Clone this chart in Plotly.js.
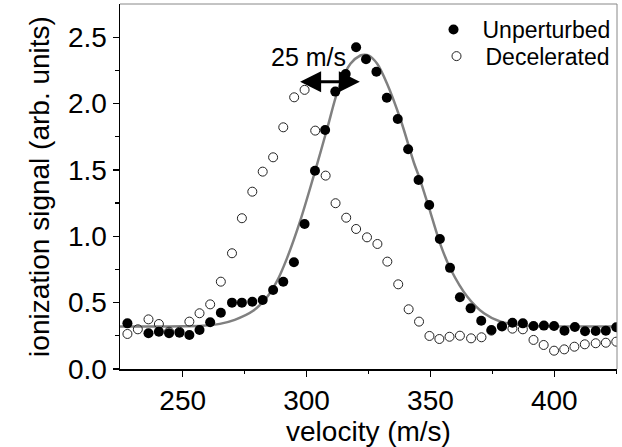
<!DOCTYPE html>
<html>
<head>
<meta charset="utf-8">
<script src="https://cdn.plot.ly/plotly-3.0.1.min.js"></script>
<style>html,body{margin:0;padding:0;background:#fff;}#chart{width:622px;height:447px;}</style>
</head>
<body>
<div id="chart"></div>
<script>
// Unperturbed (filled circles)
const unpX = [227.7, 236.2, 240.4, 244.5, 248.7, 252.7, 256.8, 261.1, 265.4, 269.9, 273.9, 278.1, 282.3, 286.5, 290.6, 294.9, 299.2, 303.4, 307.5, 311.6, 315.8, 320.0, 324.0, 328.2, 332.4, 336.8, 341.0, 345.2, 349.5, 353.8, 357.9, 361.9, 366.2, 370.5, 374.6, 378.9, 383.1, 387.3, 391.6, 395.8, 399.9, 404.1, 408.3, 412.4, 416.7, 420.8, 425.0];
const unpY = [0.344, 0.269, 0.281, 0.269, 0.274, 0.256, 0.294, 0.352, 0.424, 0.50, 0.50, 0.507, 0.52, 0.595, 0.658, 0.804, 1.093, 1.494, 1.801, 2.090, 2.223, 2.424, 2.334, 2.240, 2.044, 1.884, 1.656, 1.424, 1.236, 0.980, 0.762, 0.540, 0.457, 0.364, 0.294, 0.32, 0.349, 0.344, 0.324, 0.327, 0.324, 0.289, 0.317, 0.284, 0.286, 0.289, 0.314];

// Decelerated (open circles)
const decX = [227.7, 231.9, 236.2, 240.4, 244.5, 248.7, 252.7, 256.8, 261.1, 265.4, 269.9, 273.9, 278.1, 282.3, 286.5, 290.6, 295.0, 299.2, 303.5, 307.7, 311.7, 316.0, 320.0, 324.4, 328.6, 332.6, 337.0, 341.2, 345.4, 349.6, 353.6, 357.7, 361.9, 366.4, 370.6, 374.6, 378.8, 383.1, 387.3, 391.6, 395.7, 399.9, 404.0, 408.1, 412.3, 416.7, 420.8, 425.0];
const decY = [0.264, 0.299, 0.374, 0.339, 0.281, 0.281, 0.357, 0.42, 0.487, 0.658, 0.872, 1.136, 1.336, 1.487, 1.595, 1.821, 2.047, 2.103, 1.796, 1.457, 1.249, 1.140, 1.055, 0.992, 0.942, 0.809, 0.638, 0.450, 0.357, 0.249, 0.226, 0.243, 0.251, 0.231, 0.239, 0.289, 0.324, 0.304, 0.299, 0.219, 0.181, 0.138, 0.148, 0.168, 0.186, 0.194, 0.198, 0.206];

// Fit curve (grey line)
const fitX = [224.7, 240, 250, 258, 265, 271, 278.6, 284, 288, 292, 297.5, 303.6, 308.3, 313, 317.7, 321.7, 323.4, 325.1, 328.5, 332.5, 338, 343.4, 345.4, 350.1, 354.2, 358.2, 364.9, 371.6, 378.4, 385, 391.9, 405, 425.3];
const fitY = [0.32, 0.32, 0.322, 0.326, 0.34, 0.37, 0.44, 0.54, 0.66, 0.83, 1.12, 1.50, 1.81, 2.12, 2.30, 2.362, 2.368, 2.362, 2.30, 2.15, 1.876, 1.55, 1.449, 1.173, 0.93, 0.75, 0.545, 0.42, 0.356, 0.333, 0.324, 0.32, 0.32];

// Arrow annotation
const arrowFrom = 296.8, arrowTo = 321.5, arrowY = 2.165;
const arrowLabel = "25 m/s";

const FONT = "Arial, 'Liberation Sans', sans-serif";

const traces = [
  {x: fitX, y: fitY, mode: "lines", line: {color: "#808080", width: 2.5, shape: "spline", smoothing: 0.8}, showlegend: false, hoverinfo: "skip"},
  {x: decX, y: decY, mode: "markers", name: "Decelerated", legend: "legend2", marker: {symbol: "circle-open", size: 9, color: "#222", line: {width: 1, color: "#222"}}},
  {x: unpX, y: unpY, mode: "markers", name: "Unperturbed", legend: "legend", marker: {symbol: "circle", size: 10, color: "#000"}}
];

const legendCommon = {xanchor: "right", yanchor: "top", font: {size: 23, family: FONT}, bgcolor: "rgba(0,0,0,0)", itemwidth: 48};

const layout = {
  width: 622, height: 447,
  margin: {l: 120, r: 5, t: 4, b: 78},
  paper_bgcolor: "#fff", plot_bgcolor: "#fff",
  font: {family: FONT, color: "#000", size: 28},
  showlegend: true,
  legend: Object.assign({x: 0.997, y: 0.989}, legendCommon),
  legend2: Object.assign({x: 0.997, y: 0.916}, legendCommon),
  xaxis: {
    range: [224.7, 425.3], tickvals: [250, 300, 350, 400], ticks: "outside", ticklen: 6, tickwidth: 1.2, tickcolor: "#000",
    showline: true, linecolor: "#000", linewidth: 1.5, zeroline: false, showgrid: false,
    tickfont: {size: 28, family: FONT},
    minor: {tickvals: [275, 325, 375, 425], ticks: "outside", ticklen: 3.5, tickcolor: "#000", tickwidth: 1.2},
    title: {text: "velocity (m/s)", font: {size: 28, family: FONT}, standoff: 4}
  },
  yaxis: {
    range: [0, 2.75], tickvals: [0, 0.5, 1, 1.5, 2, 2.5], ticktext: ["0.0", "0.5", "1.0", "1.5", "2.0", "2.5"],
    ticks: "outside", ticklen: 6, tickwidth: 1.2, tickcolor: "#000",
    showline: true, linecolor: "#000", linewidth: 1.5, zeroline: false, showgrid: false,
    tickfont: {size: 28, family: FONT},
    minor: {tickvals: [0.25, 0.75, 1.25, 1.75, 2.25], ticks: "outside", ticklen: 3.5, tickcolor: "#000", tickwidth: 1.2},
    title: {text: "ionization signal (arb. units)", font: {size: 28, family: FONT}, standoff: 10}
  },
  shapes: [
    {type: "line", xref: "paper", yref: "paper", x0: 0, x1: 1, y0: 1, y1: 1, line: {color: "#888", width: 1}},
    {type: "line", xref: "paper", yref: "paper", x0: 1, x1: 1, y0: 0, y1: 1, line: {color: "#888", width: 1}}
  ],
  annotations: [
    {x: arrowTo, y: arrowY, ax: arrowFrom, ay: arrowY, xref: "x", yref: "y", axref: "x", ayref: "y", text: "", showarrow: true, arrowhead: 2, startarrowhead: 2, arrowside: "end+start", arrowsize: 1.4, startarrowsize: 1.4, arrowwidth: 3, arrowcolor: "#000"},
    {x: 300.9, y: 2.353, xref: "x", yref: "y", text: arrowLabel, showarrow: false, font: {size: 25, family: FONT, color: "#000"}}
  ]
};

Plotly.newPlot("chart", traces, layout, {displayModeBar: false, staticPlot: true});
</script>
</body>
</html>
